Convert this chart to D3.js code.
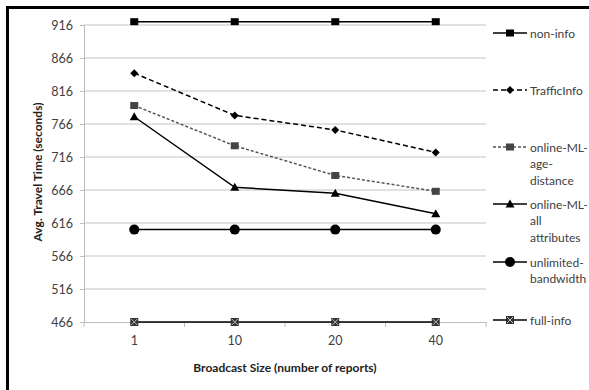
<!DOCTYPE html>
<html lang="en">
<head>
    <meta charset="utf-8">
    <title>Avg. Travel Time</title>
    <script src="https://d3js.org/d3.v7.min.js"></script>
    <style>
        body { margin: 0; background: #fff; }
        text { font-family: Lato, "Open Sans", sans-serif; }
    </style>
</head>

<body>
    <script type="text/javascript">
        var categories = ["1", "10", "20", "40"];
        var yTicks = [466, 516, 566, 616, 666, 716, 766, 816, 866, 916];

        var nonInfo = [921, 921, 921, 921];
        var trafficInfo = [843, 779, 757, 723];
        var ageDistance = [794, 733, 688, 664];
        var allAttributes = [777, 670, 661, 630];
        var unlimited = [606, 606, 606, 606];
        var fullInfo = [466, 466, 466, 466];

        var seriesNames = ["non-info", "TrafficInfo", "online-ML-age-distance",
                           "online-ML-all attributes", "unlimited-bandwidth", "full-info"];

        var w = 589, h = 390;
        var plotLeft = 84, plotRight = 486, plotTop = 25, plotBottom = 322;

        var svg = d3.select("body").append("svg")
                    .attr("width", w).attr("height", h);

        // frame
        svg.append("path")
           .attr("d", "M7.5," + (h + 5) + "V7.5H" + (w + 5))
           .attr("fill", "none").attr("stroke", "#000").attr("stroke-width", 3);

        var x = d3.scaleBand().domain(categories).range([plotLeft, plotRight]);
        var y = d3.scaleLinear().domain([466, 916]).range([plotBottom, plotTop]);

        // gridlines
        svg.selectAll("line.grid")
           .data(yTicks.slice(1))
           .enter().append("line")
           .attr("x1", plotLeft).attr("x2", plotRight)
           .attr("y1", function(d) { return y(d); })
           .attr("y2", function(d) { return y(d); })
           .attr("stroke", "#c4c4c4").attr("stroke-width", 1.2);

        // y axis
        var yAxis = svg.append("g")
           .attr("transform", "translate(" + plotLeft + ",0)")
           .call(d3.axisLeft(y).tickValues(yTicks).tickSize(4).tickPadding(7));
        yAxis.selectAll("text").attr("font-size", 12.5).attr("fill", "#404040")
             .style("font-family", "Lato, sans-serif");
        yAxis.selectAll("line, path").attr("stroke", "#bdbdbd");

        // x axis
        var xAxis = svg.append("g")
           .attr("transform", "translate(0," + plotBottom + ")")
           .call(d3.axisBottom(x).tickSize(0).tickPadding(14));
        xAxis.select("path").attr("stroke", "#bdbdbd");
        xAxis.selectAll("text").attr("font-size", 12.5).attr("fill", "#404040")
             .style("font-family", "Lato, sans-serif");
        svg.selectAll("line.xtick")
           .data(d3.range(categories.length + 1))
           .enter().append("line")
           .attr("x1", function(i) { return plotLeft + i * x.bandwidth(); })
           .attr("x2", function(i) { return plotLeft + i * x.bandwidth(); })
           .attr("y1", plotBottom).attr("y2", plotBottom + 5)
           .attr("stroke", "#bdbdbd");

        // axis titles
        svg.append("text")
           .attr("x", (plotLeft + plotRight) / 2).attr("y", 372)
           .attr("text-anchor", "middle")
           .attr("font-size", 12).attr("font-weight", "bold").attr("fill", "#222")
           .text("Broadcast Size (number of reports)");
        svg.append("text")
           .attr("transform", "translate(42,172) rotate(-90)")
           .attr("text-anchor", "middle")
           .attr("font-size", 12).attr("font-weight", "bold").attr("fill", "#222")
           .text("Avg. Travel Time (seconds)");

        var styles = [
            { data: nonInfo, stroke: "#000", dash: null, marker: "square", fill: "#000" },
            { data: trafficInfo, stroke: "#000", dash: "5,3", marker: "diamond", fill: "#000" },
            { data: ageDistance, stroke: "#555", dash: "3,2", marker: "square", fill: "#444" },
            { data: allAttributes, stroke: "#000", dash: null, marker: "triangle", fill: "#000" },
            { data: unlimited, stroke: "#000", dash: null, marker: "circle", fill: "#000" },
            { data: fullInfo, stroke: "#000", dash: null, marker: "xsquare", fill: "#333" }
        ];

        var line = d3.line()
            .x(function(d, i) { return x(categories[i]) + x.bandwidth() / 2; })
            .y(function(d) { return y(d); });

        function drawMarker(g, type, fill, cx, cy) {
            if (type === "square") {
                g.append("rect").attr("x", cx - 4).attr("y", cy - 3.5)
                 .attr("width", 8).attr("height", 7).attr("fill", fill);
            } else if (type === "diamond") {
                g.append("path").attr("transform", "translate(" + cx + "," + cy + ")")
                 .attr("d", "M0,-4L4,0L0,4L-4,0Z").attr("fill", fill);
            } else if (type === "triangle") {
                g.append("path").attr("transform", "translate(" + cx + "," + cy + ")")
                 .attr("d", "M0,-4.5L4.5,3.5L-4.5,3.5Z").attr("fill", fill);
            } else if (type === "circle") {
                g.append("circle").attr("cx", cx).attr("cy", cy).attr("r", 5).attr("fill", fill);
            } else if (type === "xsquare") {
                g.append("rect").attr("x", cx - 4).attr("y", cy - 4)
                 .attr("width", 8).attr("height", 8).attr("fill", fill);
                g.append("path").attr("d", "M" + (cx - 3) + "," + (cy - 3) + "L" + (cx + 3) + "," + (cy + 3) +
                                      "M" + (cx + 3) + "," + (cy - 3) + "L" + (cx - 3) + "," + (cy + 3))
                 .attr("stroke", "#bbb").attr("stroke-width", 1);
            }
        }

        styles.forEach(function(s) {
            var g = svg.append("g");
            g.append("path").datum(s.data)
             .attr("d", line).attr("fill", "none")
             .attr("stroke", s.stroke).attr("stroke-width", 1.5)
             .attr("stroke-dasharray", s.dash);
            s.data.forEach(function(v, i) {
                drawMarker(g, s.marker, s.fill, x(categories[i]) + x.bandwidth() / 2, y(v));
            });
        });

        // legend
        var legendY = [33, 90, 147, 204, 262, 320];
        var legendLines = [["non-info"], ["TrafficInfo"], ["online-ML-", "age-", "distance"],
                           ["online-ML-", "all", "attributes"], ["unlimited-", "bandwidth"], ["full-info"]];
        styles.forEach(function(s, i) {
            var g = svg.append("g").attr("transform", "translate(0," + legendY[i] + ")");
            g.append("line").attr("x1", 493).attr("x2", 527).attr("y1", 0).attr("y2", 0)
             .attr("stroke", s.stroke).attr("stroke-width", 1.5)
             .attr("stroke-dasharray", s.dash);
            drawMarker(g, s.marker, s.fill, 510, 0);
            var t = g.append("text").attr("x", 530).attr("y", 4.5)
                     .attr("font-size", 12).attr("fill", "#404040");
            legendLines[i].forEach(function(l, j) {
                t.append("tspan").attr("x", 530).attr("dy", j === 0 ? 0 : 16.5).text(l);
            });
        });
    </script>
</body>
</html>
